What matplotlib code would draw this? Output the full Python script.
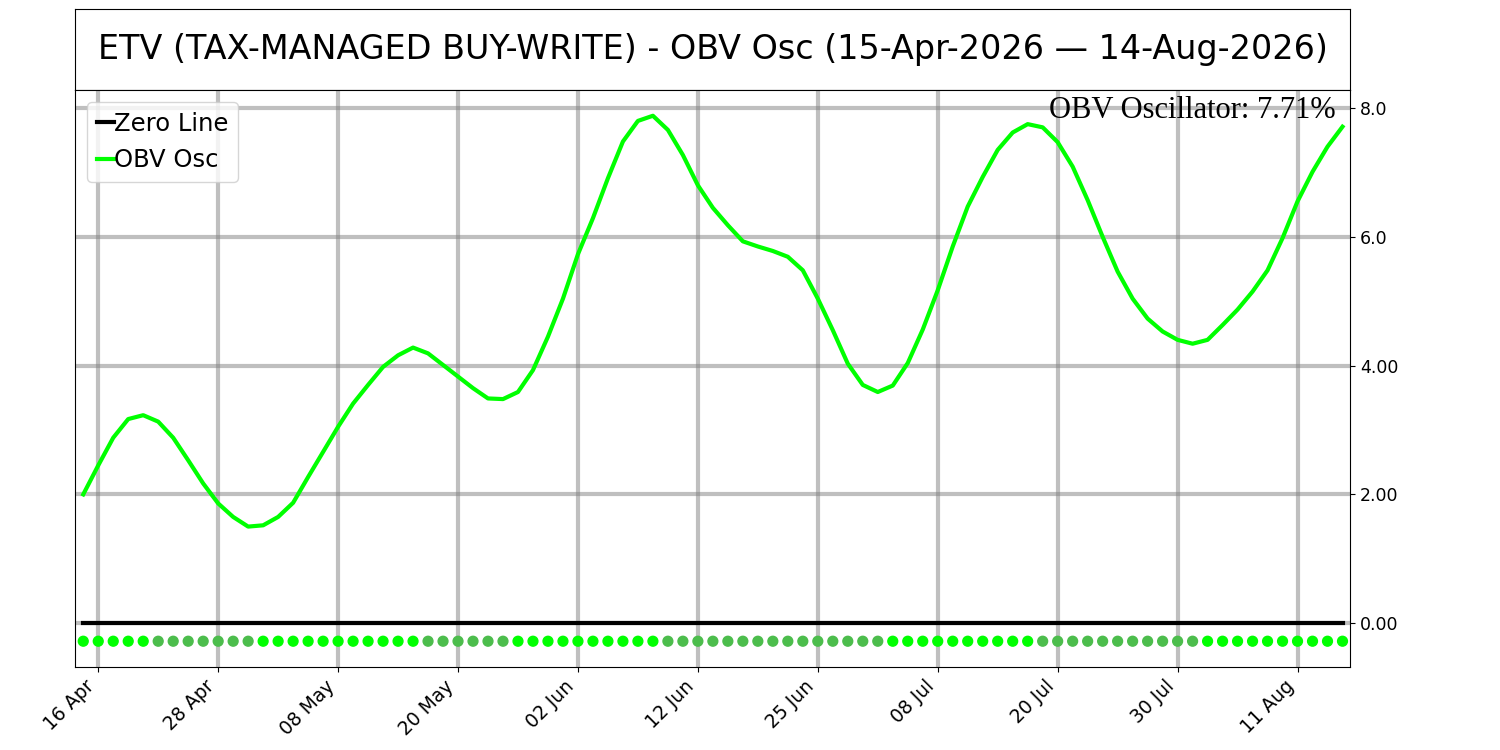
import numpy as np
import pandas as pd
import matplotlib
matplotlib.use('Agg')
import matplotlib.pyplot as plt

# trading days 15-Apr-2026 .. 14-Aug-2026 (US market holidays skipped)
holidays = ['2026-05-25', '2026-06-19', '2026-07-03']
dates = pd.bdate_range('2026-04-15', '2026-08-14', freq='C', holidays=holidays)

obv_osc = [2.00, 2.45, 2.88, 3.17, 3.23, 3.13, 2.88, 2.53, 2.17, 1.86,
           1.65, 1.50, 1.52, 1.65, 1.87, 2.27, 2.66, 3.05, 3.41, 3.70,
           3.98, 4.16, 4.28, 4.19, 4.01, 3.83, 3.65, 3.49, 3.48, 3.59,
           3.93, 4.45, 5.04, 5.73, 6.29, 6.91, 7.48, 7.80, 7.88, 7.66,
           7.27, 6.80, 6.45, 6.18, 5.93, 5.85, 5.78, 5.69, 5.48, 5.04,
           4.55, 4.03, 3.70, 3.59, 3.69, 4.04, 4.56, 5.17, 5.85, 6.47,
           6.93, 7.35, 7.62, 7.75, 7.70, 7.47, 7.09, 6.57, 6.00, 5.46,
           5.04, 4.73, 4.53, 4.40, 4.34, 4.40, 4.63, 4.87, 5.15, 5.48,
           5.98, 6.55, 7.01, 7.40, 7.71]

tick_labels = ['16 Apr', '28 Apr', '08 May', '20 May', '02 Jun', '12 Jun',
               '25 Jun', '08 Jul', '20 Jul', '30 Jul', '11 Aug']
y_ticks = [0, 2, 4, 6, 8]
y_tick_labels = ['0.00', '2.00', '4.00', '6.0', '8.0']

title = 'ETV (TAX-MANAGED BUY-WRITE) - OBV Osc (15-Apr-2026 \u2014 14-Aug-2026)'

x = np.arange(len(dates))
osc = np.array(obv_osc)
date_str = [d.strftime('%d %b') for d in dates]
tick_pos = [date_str.index(t) for t in tick_labels]

# dot colour: bright when the oscillator is rising, dull when falling
diff = np.diff(osc, prepend=osc[0])
dot_colors = ['#00ff00' if d >= 0 else '#4cbd4c' for d in diff]

fig = plt.figure(figsize=(15, 7.5), dpi=100)

# title box
ax_t = fig.add_axes([0.05, 0.88, 0.85, 0.108])
ax_t.set_xticks([])
ax_t.set_yticks([])
ax_t.text(0.5, 0.5, title, ha='center', va='center', fontsize=24)

ax = fig.add_axes([0.05, 0.1107, 0.85, 0.7693])
ax.plot(x, np.zeros(len(x)), color='black', lw=3, label='Zero Line')
ax.plot(x, osc, color='#00ff00', lw=3, label='OBV Osc')
ax.scatter(x, np.full(len(x), -0.28), c=dot_colors, s=50, zorder=3)

ax.set_xlim(-0.55, 84.5)
ax.set_ylim(-0.68, 8.28)
ax.set_xticks(tick_pos)
ax.set_xticklabels(tick_labels, rotation=45, ha='right', fontsize=13.5)
ax.yaxis.tick_right()
ax.set_yticks(y_ticks)
ax.set_yticklabels(y_tick_labels, fontsize=12.5)
ax.grid(True, color='gray', alpha=0.5, lw=3)
ax.set_axisbelow(True)

ax.text(0.989, 0.99, 'OBV Oscillator: %.2f%%' % osc[-1], transform=ax.transAxes,
        ha='right', va='top', fontsize=22, family='Liberation Serif')

ax.legend(loc='upper left', fontsize=17.5, handlelength=0.7, handletextpad=0)

fig.savefig('out.png', dpi=100)
